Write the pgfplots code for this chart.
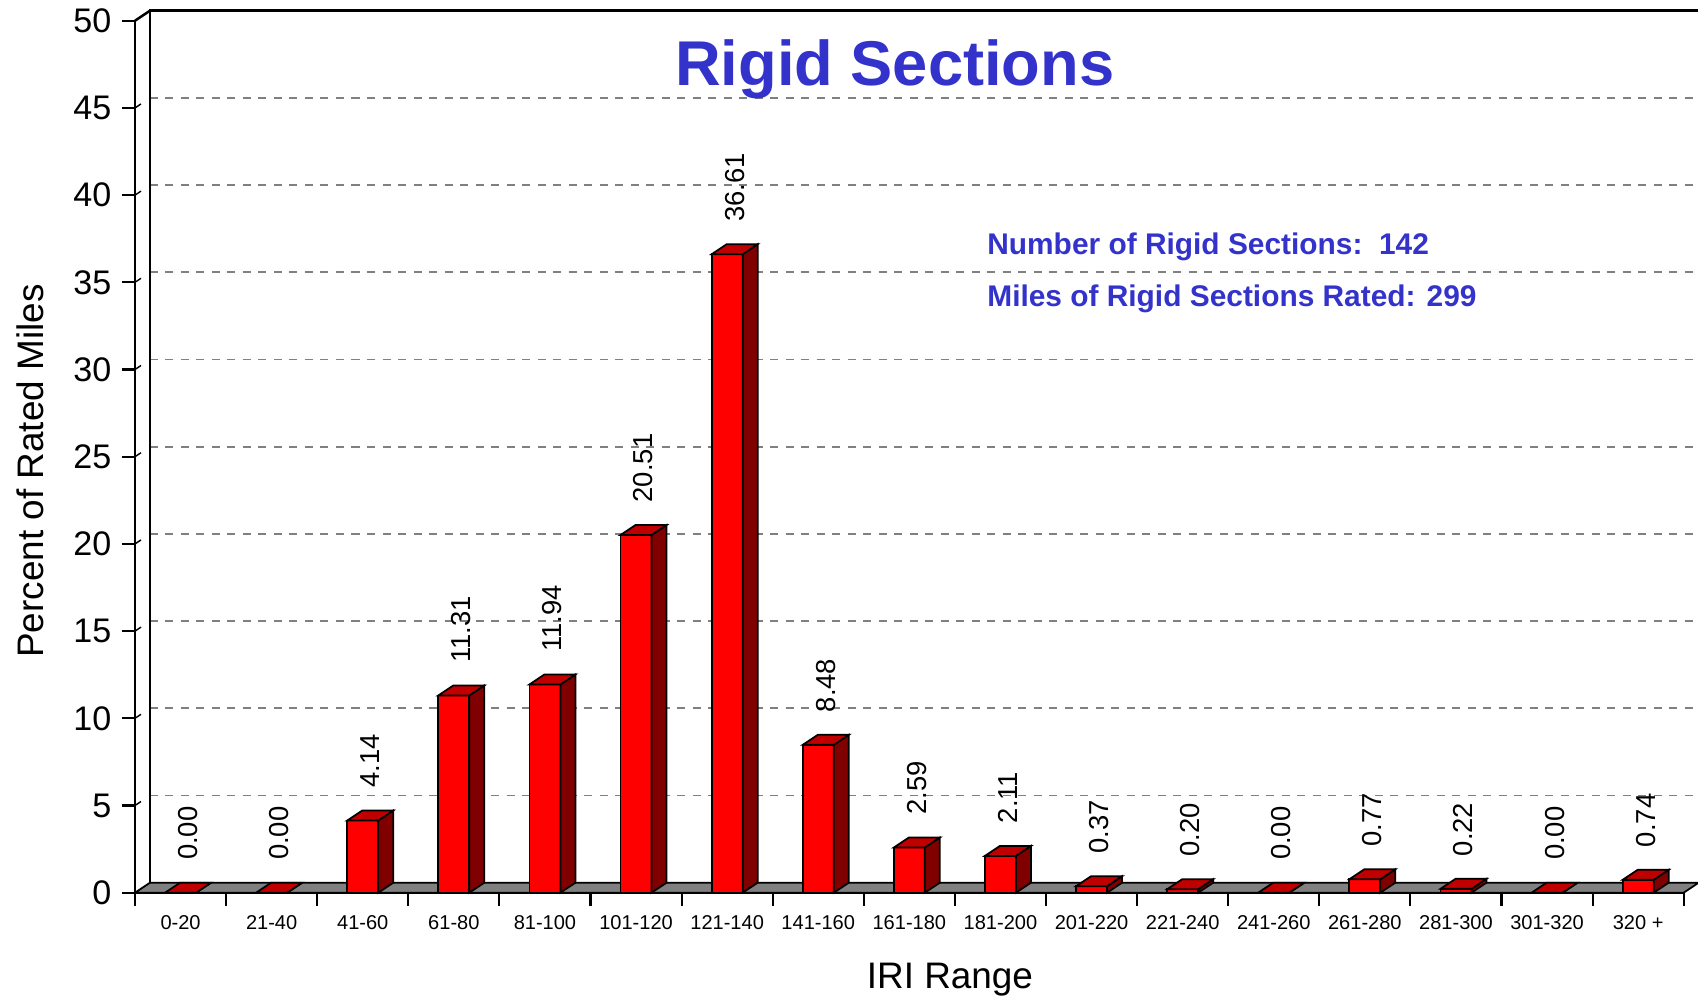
\documentclass[border=0pt]{standalone}
\usepackage{fontspec}
\setmainfont{Liberation Sans}
\usepackage{pgfplots}
\usepackage{pgfplotstable}
\pgfplotsset{compat=1.18}

\definecolor{barfront}{HTML}{FF0000}
\definecolor{bartop}{HTML}{C00000}
\definecolor{barside}{HTML}{800000}
\definecolor{floorgray}{HTML}{808080}
\definecolor{titleblue}{HTML}{3333CC}

% percent of rated miles per IRI range (bar centres at 0.5, 1.5, ...)
\pgfplotstableread{
x    v
0.5  0.00
1.5  0.00
2.5  4.14
3.5  11.31
4.5  11.94
5.5  20.51
6.5  36.61
7.5  8.48
8.5  2.59
9.5  2.11
10.5 0.37
11.5 0.20
12.5 0.00
13.5 0.77
14.5 0.22
15.5 0.00
16.5 0.74
}\rigid

% pseudo 3d bar drawn from the top front centre down to the floor
\pgfdeclareplotmark{prism}{%
  \pgfmathsetmacro\hh{\barh*0.1744}%
  \filldraw[fill=barfront, draw=black, line width=0.5pt] (-0.155cm,-\hh cm) rectangle (0.155cm,0cm);
  \filldraw[fill=barside, draw=black, line width=0.5pt] (0.155cm,-\hh cm) -- (0.305cm,{0.1cm-\hh cm}) -- (0.305cm,0.1cm) -- (0.155cm,0cm) -- cycle;
  \filldraw[fill=bartop, draw=black, line width=0.5pt] (-0.155cm,0cm) -- (0.155cm,0cm) -- (0.305cm,0.1cm) -- (-0.005cm,0.1cm) -- cycle;
}

\begin{document}
\begin{tikzpicture}
\useasboundingbox (-1.35,-1.033) rectangle (15.63,8.927);
\begin{axis}[
    at={(0,0)}, anchor=origin,
    x=0.911cm, y=0.1744cm,
    xmin=0, xmax=17, ymin=0, ymax=50,
    axis x line*=bottom, axis y line*=left,
    axis line style={-, line width=0.7pt, black},
    clip=false,
    xtick={0,...,17},
    x tick label as interval,
    xticklabels={0-20,21-40,41-60,61-80,81-100,101-120,121-140,141-160,161-180,181-200,201-220,221-240,241-260,261-280,281-300,301-320,320 +},
    ytick={0,5,...,50},
    tick align=outside,
    major tick length=0.13cm,
    tick style={black, line width=0.6pt},
    xticklabel style={font=\fontsize{5.7}{6}\selectfont, anchor=base, inner sep=0pt, yshift=-0.236cm},
    yticklabel style={font=\fontsize{9.7}{11}\selectfont, anchor=east, inner sep=0pt, xshift=-0.10cm},
    /pgf/number format/assume math mode=true,
    xlabel={IRI Range},
    ylabel={Percent of Rated Miles},
    every axis x label/.style={at={(axis cs:8.946,-5.47)}, anchor=base, font=\fontsize{10.5}{12}\selectfont},
    every axis y label/.style={at={(axis cs:-0.999,24.18)}, rotate=90, anchor=base, font=\fontsize{10.5}{12}\selectfont},
]
% floor
\filldraw[fill=floorgray, draw=black, line width=0.5pt] (axis cs:0,0) -- (axis cs:17,0)
  -- ([shift={(0.15cm,0.1cm)}]axis cs:17,0) -- ([shift={(0.15cm,0.1cm)}]axis cs:0,0) -- cycle;
% back wall
\pgfplotsinvokeforeach{5,10,...,45}{
  \draw[floorgray, line width=0.5pt, dash pattern=on 0.8mm off 0.75mm]
    ([shift={(0.15cm,0.1cm)}]axis cs:0,#1) -- ([shift={(0.15cm,0.1cm)}]axis cs:17,#1);
  \draw[black, line width=0.4pt] (axis cs:0,#1) -- ([shift={(0.06cm,0.04cm)}]axis cs:0,#1);
}
\draw[black, line width=0.7pt] ([shift={(0.15cm,0.1cm)}]axis cs:0,0) -- ([shift={(0.15cm,0.1cm)}]axis cs:0,50)
  -- ([shift={(0.15cm,0.1cm)}]axis cs:17,50);
\draw[black, line width=0.7pt] (axis cs:0,50) -- ([shift={(0.15cm,0.1cm)}]axis cs:0,50);

\addplot[
    only marks, mark=prism,
    visualization depends on={\thisrow{v} \as \barh},
    point meta=y,
    nodes near coords,
    nodes near coords style={text=black, font=\fontsize{7.8}{9}\selectfont, inner sep=0pt,
      xshift=0.075cm, yshift=0.32cm, rotate=90, anchor=west},
    /pgf/number format/.cd, fixed, fixed zerofill, precision=2,
] table[x=x, y=v] {\rigid};

\node[anchor=base, text=titleblue, font=\bfseries\fontsize{18}{20}\selectfont] at (axis cs:8.34,46.27) {Rigid Sections};
\node[anchor=base west, text=titleblue, font=\bfseries\fontsize{8.5}{10}\selectfont] at (axis cs:9.22,36.62) {Number of Rigid Sections:\ \ 142};
\node[anchor=base west, text=titleblue, font=\bfseries\fontsize{8.5}{10}\selectfont] at (axis cs:9.22,33.64) {Miles of Rigid Sections Rated: 299};
\end{axis}
\end{tikzpicture}
\end{document}
